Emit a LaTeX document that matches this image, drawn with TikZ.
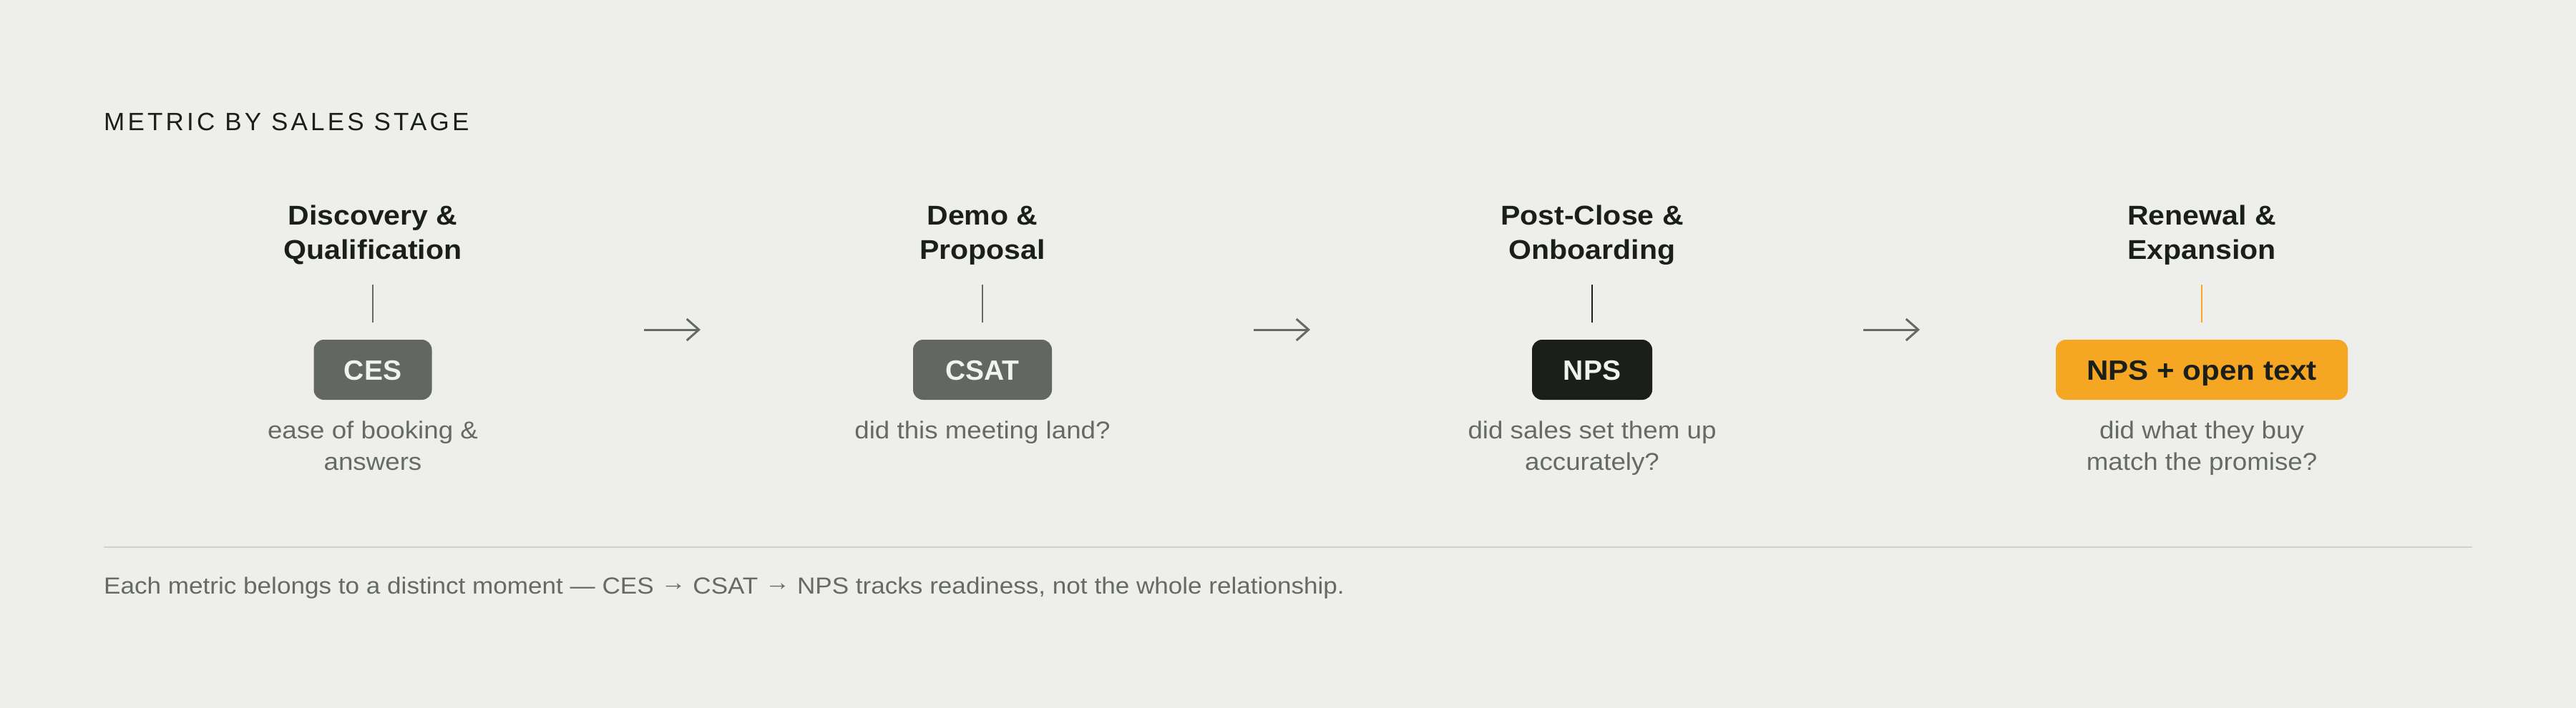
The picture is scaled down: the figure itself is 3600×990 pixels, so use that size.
\documentclass[tikz,border=0pt]{standalone}
\usepackage{fontspec}
\setmainfont{Liberation Sans}[FakeStretch=1.08]
\newfontfamily\plainsans{Liberation Sans}
\usetikzlibrary{arrows.meta}
\definecolor{bg}{HTML}{EEEFEC}
\definecolor{ink}{HTML}{1B1F1B}
\definecolor{slate}{HTML}{636762}
\definecolor{muted}{HTML}{666A66}
\definecolor{amber}{HTML}{F5A623}
\definecolor{rulec}{HTML}{D0D1CD}
\definecolor{paper}{HTML}{F2F3EF}
\newcommand\ttstrut{\rule[-14.5pt]{0pt}{48.5pt}}
\newcommand\dsstrut{\rule[-13pt]{0pt}{44pt}}
\newcommand\farr{\raisebox{0.13em}{→}}
\begin{document}
\begin{tikzpicture}[x=1pt,y=-1pt,
  heading/.style={anchor=base west, inner sep=0pt, text=ink,
    font=\plainsans\fontsize{35}{42}\selectfont\addfontfeature{LetterSpace=12}},
  stagetitle/.style={anchor=north, inner sep=0pt, align=center, text=ink,
    font=\fontsize{38}{48.5}\selectfont\bfseries},
  stagedesc/.style={anchor=north, inner sep=0pt, align=center, text=muted,
    font=\fontsize{34}{44}\selectfont},
  metricbox/.style={rounded corners=14pt, minimum height=84pt, inner xsep=0pt,
    inner ysep=0pt, text height=28pt, text depth=0pt,
    font=\plainsans\fontsize{39}{44}\selectfont\bfseries},
  greybox/.style={metricbox, fill=slate, text=paper},
  darkbox/.style={metricbox, fill=ink, text=paper},
  amberbox/.style={metricbox, fill=amber, text=ink,
    font=\fontsize{39}{44}\selectfont\bfseries},
  stem/.style={line width=2.5pt},
  flow/.style={draw=muted, line width=3pt, -{Straight Barb[length=17pt,width=30pt]}},
  footnote/.style={anchor=base west, inner sep=0pt, text=muted,
    font=\fontsize{32.5}{40}\selectfont},
]
\fill[bg] (0,0) rectangle (3600,990);
\useasboundingbox (0,0) rectangle (3600,990);

\node[heading] (head) at (145,182) {METRIC BY SALES STAGE};

% stage titles
\node[stagetitle] (t1) at (521,280) {\ttstrut Discovery \&\\\ttstrut Qualification};
\node[stagetitle] (t2) at (1373,280) {\ttstrut Demo \&\\\ttstrut Proposal};
\node[stagetitle] (t3) at (2225,280) {\ttstrut Post-Close \&\\\ttstrut Onboarding};
\node[stagetitle] (t4) at (3077,280) {\ttstrut Renewal \&\\\ttstrut Expansion};

% metric boxes
\node[greybox, minimum width=165pt] (b1) at (521,517) {CES};
\node[greybox, minimum width=194pt] (b2) at (1373,517) {CSAT};
\node[darkbox, minimum width=168pt] (b3) at (2225,517) {NPS};
\node[amberbox, minimum width=408pt] (b4) at (3077,517) {NPS + open text};

% stems
\draw[stem, draw=muted] ([yshift=24pt]b1.north) -- ([yshift=77pt]b1.north);
\draw[stem, draw=muted] ([yshift=24pt]b2.north) -- ([yshift=77pt]b2.north);
\draw[stem, draw=ink]   ([yshift=24pt]b3.north) -- ([yshift=77pt]b3.north);
\draw[stem, draw=amber] ([yshift=24pt]b4.north) -- ([yshift=77pt]b4.north);

% descriptions
\node[stagedesc] (d1) at (521,582) {\dsstrut ease of booking \&\\\dsstrut answers};
\node[stagedesc] (d2) at (1373,582) {\dsstrut did this meeting land?};
\node[stagedesc] (d3) at (2225,582) {\dsstrut did sales set them up\\\dsstrut accurately?};
\node[stagedesc] (d4) at (3077,582) {\dsstrut did what they buy\\\dsstrut match the promise?};

% flow arrows
\coordinate (g1a) at (900,461);  \coordinate (g1b) at (979,461);
\coordinate (g2a) at (1752,461); \coordinate (g2b) at (1831,461);
\coordinate (g3a) at (2604,461); \coordinate (g3b) at (2683,461);
\draw[flow] (g1a) -- (g1b);
\draw[flow] (g2a) -- (g2b);
\draw[flow] (g3a) -- (g3b);

% separator
\coordinate (sepl) at (145,765); \coordinate (sepr) at (3455,765);
\draw[draw=rulec, line width=2.5pt] (sepl) -- (sepr);

\node[footnote] (foot) at (145,830) {Each metric belongs to a distinct moment — CES \farr{} CSAT \farr{} NPS tracks readiness, not the whole relationship.};
\end{tikzpicture}
\end{document}
